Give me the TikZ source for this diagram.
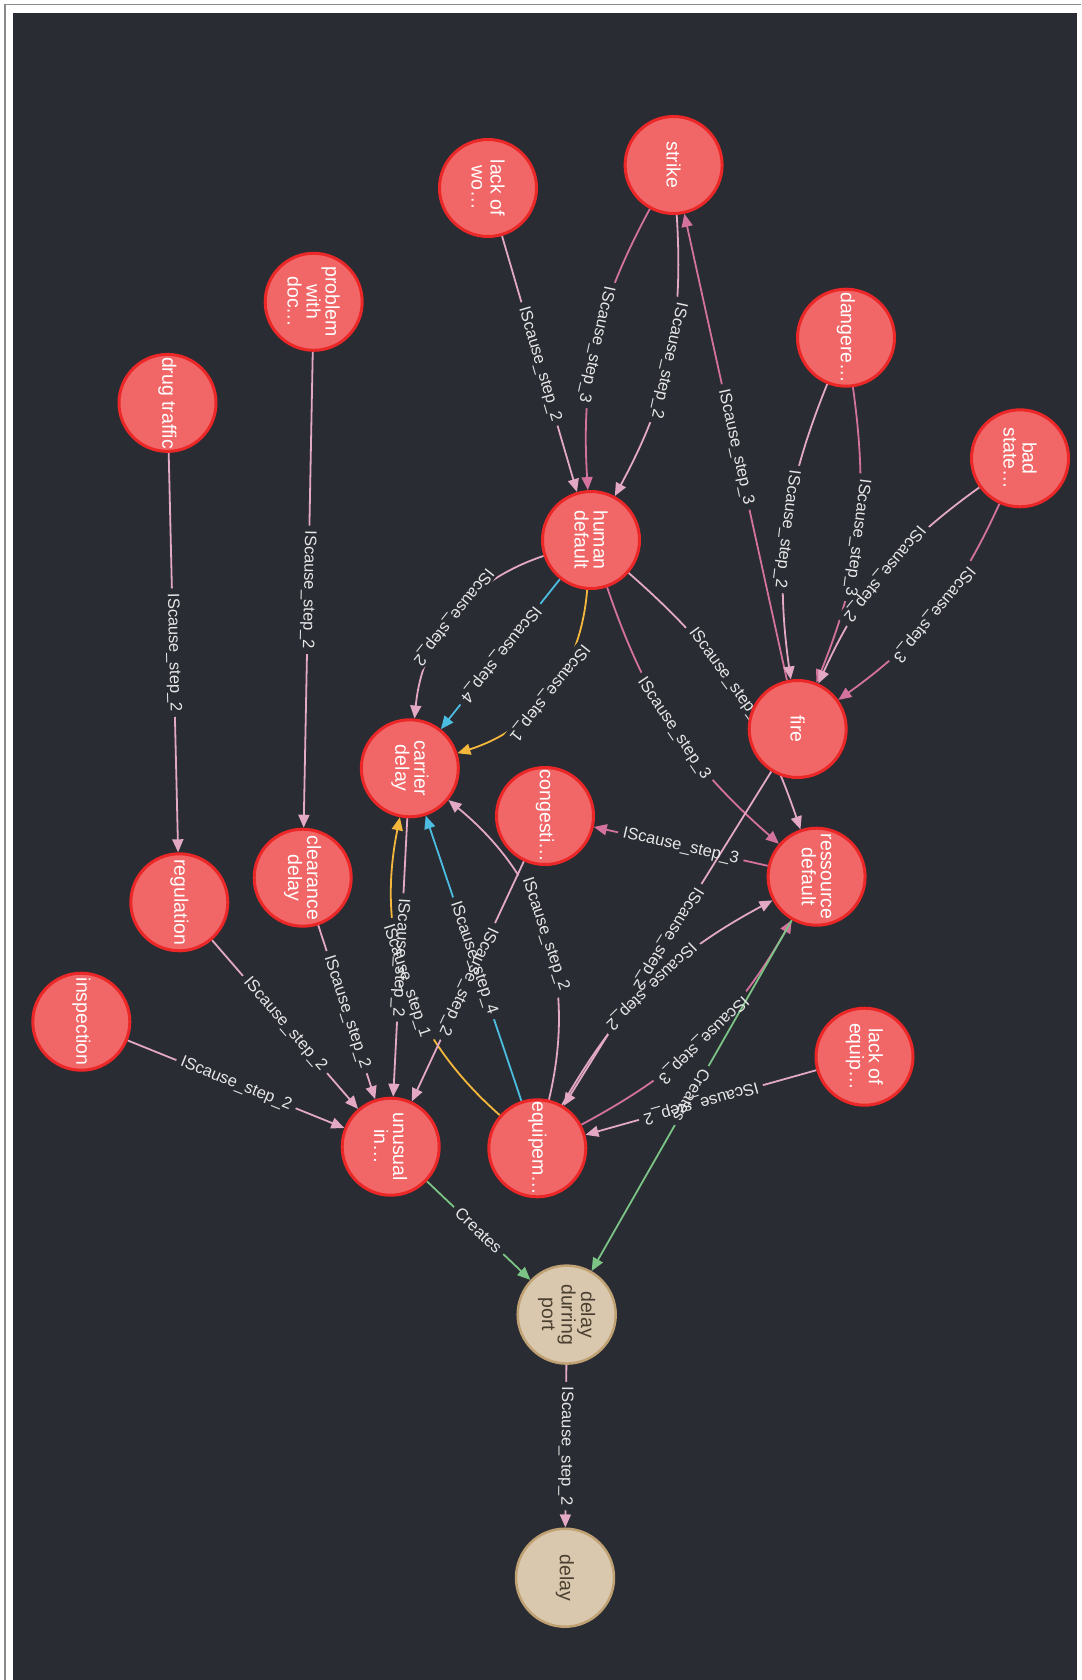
\documentclass[tikz,border=0pt]{standalone}
\usepackage{fontspec}
\setmainfont{Liberation Sans}
\usetikzlibrary{arrows.meta}
\definecolor{bg}{HTML}{292C33}
\definecolor{nodefill}{HTML}{F16667}
\definecolor{nodeline}{HTML}{EB2728}
\definecolor{beigefill}{HTML}{D9C8AE}
\definecolor{beigeline}{HTML}{BFA173}
\definecolor{beigetext}{HTML}{4A3F30}
\definecolor{stwo}{HTML}{E2A8C4}
\definecolor{sthree}{HTML}{D4729E}
\definecolor{sfour}{HTML}{4CBCE0}
\definecolor{sone}{HTML}{F5B83D}
\definecolor{crt}{HTML}{7BC485}
\definecolor{lbltxt}{HTML}{E6E6E6}
\definecolor{framegray}{HTML}{8A8A8A}
\pgfdeclarelayer{back}
\pgfdeclarelayer{edges}
\pgfdeclarelayer{labels}
\pgfsetlayers{back,edges,labels,main}
\newcommand\showtxt[1]{#1}
\newcommand\lbltext{}
\newcommand\edgelist{%
 \path[ed=stwo,fwd] (lackwo) to node[lbl]{\lbltext{IScause\_step\_2}} (human);
 \path[ed=stwo,fwd] (strike) to[bend left=16] node[lbl]{\lbltext{IScause\_step\_2}} (human);
 \path[ed=sthree,fwd] (strike) to[bend right=16] node[lbl]{\lbltext{IScause\_step\_3}} (human);
 \path[ed=sthree,bwd] (strike) to node[lbl]{\lbltext{IScause\_step\_3}} (fire);
 \path[ed=sthree,fwd] (danger) to[bend left=15] node[lbl]{\lbltext{IScause\_step\_3}} (fire);
 \path[ed=stwo,fwd] (danger) to[bend right=15] node[lbl]{\lbltext{IScause\_step\_2}} (fire);
 \path[ed=sthree,fwd] (badstate) to[bend left=15] node[lbl]{\lbltext{IScause\_step\_3}} (fire);
 \path[ed=stwo,fwd] (badstate) to[bend right=15] node[lbl]{\lbltext{IScause\_step\_2}} (fire);
 \path[ed=sone,fwd] (human) to[bend left=34] node[lbl]{\lbltext{IScause\_step\_1}} (carrier);
 \path[ed=sfour,fwd] (human) to node[lbl]{\lbltext{IScause\_step\_4}} (carrier);
 \path[ed=stwo,fwd] (human) to[bend right=33] node[lbl]{\lbltext{IScause\_step\_2}} (carrier);
 \path[ed=stwo,fwd] (human) to[bend left=15] node[lbl,pos=0.44]{\lbltext{IScause\_step\_}} (ressource);
 \path[ed=sthree,fwd] (human) to[bend right=15] node[lbl]{\lbltext{IScause\_step\_3}} (ressource);
 \path[ed=sthree,bwd] (congest) to node[lbl]{\lbltext{IScause\_step\_3}} (ressource);
 \path[ed=stwo,fwd] (fire) to node[lbl]{\lbltext{IScause\_step\_2}} (equipem);
 \path[ed=sthree,bwd] (ressource) to[bend left=16] node[lbl]{\lbltext{IScause\_step\_3}} (equipem);
 \path[ed=stwo,bwd] (ressource) to[bend right=16] node[lbl]{\lbltext{IScause\_step\_2}} (equipem);
 \path[ed=crt,fwd] (ressource) to node[lbl]{\lbltext{Creates}} (port);
 \path[ed=stwo,fwd] (lackequip) to node[lbl]{\lbltext{IScause\_step\_2}} (equipem);
 \path[ed=stwo,bwd] (carrier) to[bend left=32] node[lbl]{\lbltext{IScause\_step\_2}} (equipem);
 \path[ed=sfour,bwd] (carrier) to node[lbl]{\lbltext{IScause\_step\_4}} (equipem);
 \path[ed=sone,bwd] (carrier) to[bend right=30] node[lbl]{\lbltext{IScause\_step\_1}} (equipem);
 \path[ed=stwo,fwd] (carrier) to node[lbl]{\lbltext{IScause\_step\_2}} (unusual);
 \path[ed=stwo,fwd] (congest) to node[lbl]{\lbltext{IScause\_step\_2}} (unusual);
 \path[ed=stwo,fwd] (clearance) to node[lbl]{\lbltext{IScause\_step\_2}} (unusual);
 \path[ed=stwo,fwd] (regulation) to node[lbl]{\lbltext{IScause\_step\_2}} (unusual);
 \path[ed=stwo,fwd] (inspection) to node[lbl]{\lbltext{IScause\_step\_2}} (unusual);
 \path[ed=stwo,fwd] (problem) to node[lbl]{\lbltext{IScause\_step\_2}} (clearance);
 \path[ed=stwo,fwd] (drug) to node[lbl]{\lbltext{IScause\_step\_2}} (regulation);
 \path[ed=crt,fwd] (unusual) to node[lbl]{\lbltext{Creates}} (port);
 \path[ed=stwo,fwd] (port) to node[lbl]{\lbltext{IScause\_step\_2}} (delay);
}
\begin{document}
\begin{tikzpicture}[x=1pt,y=1pt,
  >={Triangle[length=13pt,width=11pt]},
  redn/.style={circle, draw=nodeline, fill=nodefill, line width=3pt,
    minimum size=97pt, inner sep=0pt, text=white,
    font=\fontsize{19.5}{19}\selectfont, align=center, rotate=-90},
  tann/.style={circle, draw=beigeline, fill=beigefill, line width=2.5pt,
    minimum size=98pt, inner sep=0pt, text=beigetext,
    font=\fontsize{19.5}{19.5}\selectfont, align=center, rotate=-90},
  lblbase/.style={sloped, allow upside down, inner xsep=5pt, inner ysep=1.5pt,
    font=\fontsize{16.5}{18}\selectfont}]
\useasboundingbox (0,0) rectangle (1081,-1680);
\begin{pgfonlayer}{back}
\fill[white] (0,0) rectangle (1081,-1680);
\fill[bg] (13,-13) rectangle (1077,-1680);
\draw[framegray, line width=1.4pt] (5,-1680) -- (5,-4.5) -- (1081,-4.5);
\end{pgfonlayer}
% nodes
\node[redn] (lackwo) at (488,-188) {lack of\\wo…};
\node[redn] (strike) at (673.6,-165) {strike};
\node[redn] (problem) at (313.7,-301.8) {problem\\with\\doc…};
\node[redn] (drug) at (167.5,-402.9) {drug traffic};
\node[redn] (danger) at (846,-337.7) {dangere…};
\node[redn] (badstate) at (1020,-458.3) {bad\\state…};
\node[redn] (human) at (591,-540) {human\\default};
\node[redn] (fire) at (797.7,-729) {fire};
\node[redn] (carrier) at (409.8,-768.3) {carrier\\delay};
\node[redn] (congest) at (545,-816) {congesti…};
\node[redn] (ressource) at (816.6,-876.7) {ressource\\default};
\node[redn] (clearance) at (302.7,-877.7) {clearance\\delay};
\node[redn] (regulation) at (179.3,-902.3) {regulation};
\node[redn] (inspection) at (81.3,-1021.7) {inspection};
\node[redn] (lackequip) at (864.5,-1056.7) {lack of\\equip…};
\node[redn] (unusual) at (390.7,-1146.7) {unusual\\in…};
\node[redn] (equipem) at (537.3,-1148.3) {equipem…};
\node[tann] (port) at (566.7,-1314.6) {delay\\durring\\port};
\node[tann] (delay) at (565,-1577.7) {delay};
% edges: pass 1 (lines, arrow tips, gaps)
\begin{pgfonlayer}{edges}
\tikzset{ed/.style={draw=#1, line width=1.8pt},
  fwd/.style={->}, bwd/.style={<-},
  lbl/.style={lblbase, fill=bg}}
\let\lbltext\phantom
\edgelist
\end{pgfonlayer}
% edges: pass 2 (label texts)
\begin{pgfonlayer}{labels}
\tikzset{ed/.style={}, fwd/.style={}, bwd/.style={},
  lbl/.style={lblbase, text=lbltxt}}
\let\lbltext\showtxt
\edgelist
\end{pgfonlayer}
\end{tikzpicture}
\end{document}
